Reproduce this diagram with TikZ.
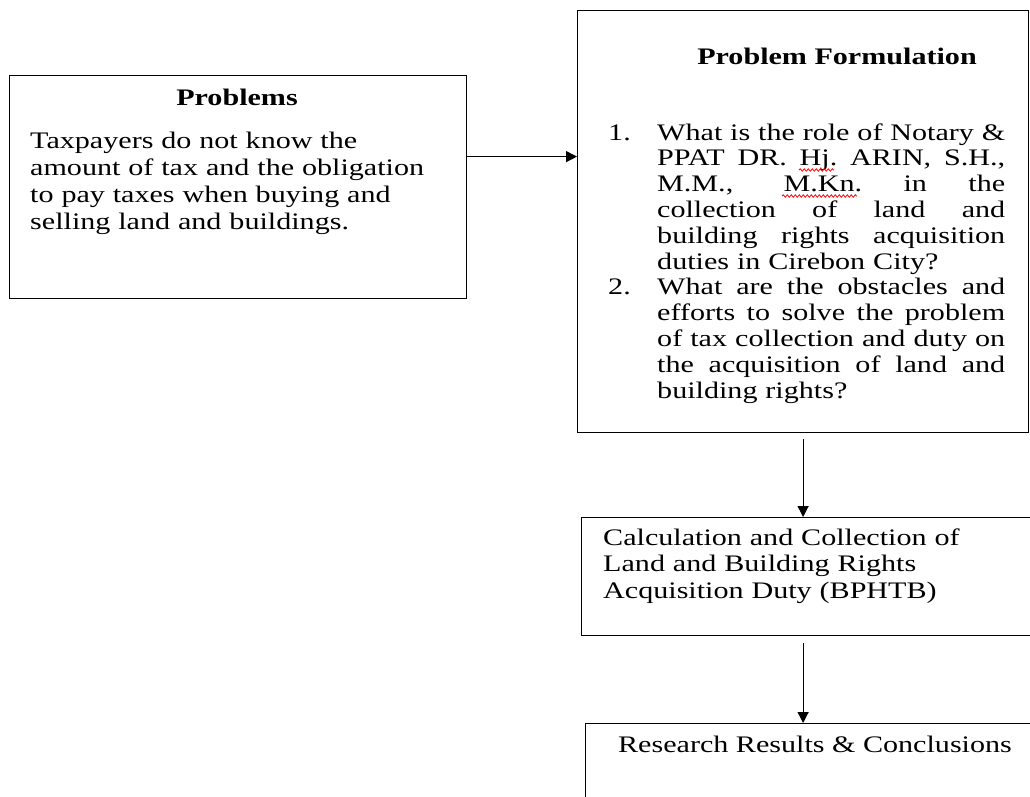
\documentclass[tikz,border=0pt]{standalone}
\usepackage{fontspec}
\setmainfont[FakeStretch=1.27]{Liberation Serif}
\usetikzlibrary{arrows.meta,decorations.pathmorphing}
\tikzset{
  box/.style={draw,line width=1.2pt,rectangle,inner sep=0pt,anchor=north west},
  arr/.style={-{Triangle[length=11pt,width=11pt]},line width=1.2pt},
  body/.style={inner sep=0pt,font=\fontsize{23.7}{27}\selectfont},
  head/.style={body,anchor=base,font=\fontsize{23.7}{27}\selectfont\bfseries},
  spell/.style={red,line width=0.8pt,decorate,decoration={snake,amplitude=1.2pt,segment length=4pt}},
}
% justified line of the numbered list
\newcommand{\jline}[1]{{\spaceskip=.25em plus 1fil\xspaceskip=.25em plus 1fil\makebox[348pt][s]{#1}}}
\begin{document}
\begin{tikzpicture}[x=1pt,y=-1pt]
\useasboundingbox (0,0) rectangle (1030,796);
\clip (0,0) rectangle (1030,796);
% boxes
\draw (9,75) node[box,minimum width=457pt,minimum height=223pt] (probs) {};
\draw (577,10) node[box,minimum width=451pt,minimum height=422pt] (formul) {};
\draw (581,517) node[box,minimum width=459pt,minimum height=118pt] (calc) {};
\draw (585,723) node[box,minimum width=455pt,minimum height=90pt] (results) {};
% texts
\node[head] (probstitle) at (237,105) {Problems};
\node[body,anchor=base west,text width=430pt,align=left] (probstext) at (30,148)
  {Taxpayers do not know the\\amount of tax and the obligation\\to pay taxes when buying and\\selling land and buildings.};
\node[head] (formultitle) at (837,64) {Problem Formulation};
\node[body,anchor=base west,text width=400pt,align=left,font=\fontsize{23.7}{25.8}\selectfont] (formultext) at (608,140)
  {\makebox[49pt][l]{1.}\jline{What is the role of Notary \&}\\
   \hspace*{49pt}\jline{PPAT DR. Hj. ARIN, S.H.,}\\
   \hspace*{49pt}\jline{M.M., M.Kn. in the}\\
   \hspace*{49pt}\jline{collection of land and}\\
   \hspace*{49pt}\jline{building rights acquisition}\\
   \hspace*{49pt}duties in Cirebon City?\\
   \makebox[49pt][l]{2.}\jline{What are the obstacles and}\\
   \hspace*{49pt}\jline{efforts to solve the problem}\\
   \hspace*{49pt}\jline{of tax collection and duty on}\\
   \hspace*{49pt}\jline{the acquisition of land and}\\
   \hspace*{49pt}building rights?};
\node[body,anchor=base west,text width=430pt,align=left,font=\fontsize{23.7}{26.5}\selectfont] (calctext) at (603,545)
  {Calculation and Collection of\\Land and Building Rights\\Acquisition Duty (BPHTB)};
\node[body,anchor=base] (resultstext) at (815,752) {Research Results \& Conclusions};
% spelling marks
\draw[spell] (799,170) -- (834,170);
\draw[spell] (782,196) -- (857,196);
% connectors
\coordinate (pa) at ([yshift=30.5pt]probs.east);
\draw[arr] (pa) -- (pa -| formul.west);
\draw[arr,shorten <=6pt] (formul.south) -- (formul.south |- calc.north);
\draw[arr,shorten <=7pt] (calc.south -| formul.south) -- (formul.south |- results.north);
\end{tikzpicture}
\end{document}
